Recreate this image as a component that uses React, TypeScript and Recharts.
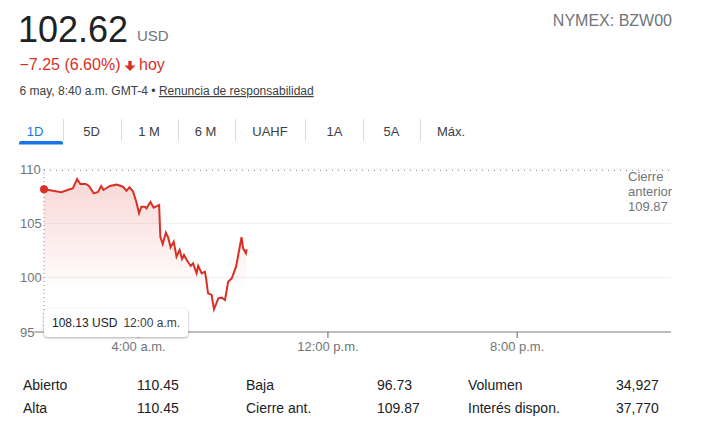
import React from 'react';
import { ComposedChart, Area, XAxis, YAxis, CartesianGrid, Tooltip, ReferenceLine, Label } from 'recharts';

// minutes after midnight (6 may) and price in USD
const minutes = [0, 44, 65, 73, 84, 92, 106, 114, 126, 137, 145, 151, 167, 184, 200, 209, 217, 226, 234, 241, 247, 256, 260, 270, 278, 292, 295, 301, 309, 315, 321, 329, 336, 344, 350, 355, 362, 372, 378, 387, 391, 400, 408, 411, 416, 425, 431, 442, 451, 459, 467, 476, 487, 501, 505, 512, 514];
const prices = [108.13, 107.86, 108.13, 108.22, 109.08, 108.62, 108.62, 108.44, 107.76, 107.88, 108.44, 108.07, 108.44, 108.56, 108.37, 108.0, 108.32, 107.91, 106.99, 105.92, 106.53, 106.53, 106.38, 106.96, 106.44, 106.69, 103.77, 103.1, 104.14, 103.68, 102.8, 103.31, 101.93, 102.55, 101.72, 102.09, 101.63, 101.08, 101.32, 100.4, 101.08, 100.4, 100.55, 99.94, 98.56, 98.41, 97.09, 98.1, 98.16, 97.95, 99.63, 99.94, 101.01, 103.72, 102.7, 102.25, 102.62];

const yTicks = [95, 100, 105, 110];
const xTicks = [240, 720, 1200];
const xTickLabels = ['4:00 a.m.', '12:00 p.m.', '8:00 p.m.'];
const xEnd = 1590;

const prevClose = 109.87;
const lastPrice = '102.62';
const changeText = '−7.25 (6.60%)';
const tabs = ['1D', '5D', '1 M', '6 M', 'UAHF', '1A', '5A', 'Máx.'];
const tabCenters = [35, 91.5, 149, 205.5, 270, 334.5, 391.5, 451];
const tabSeparators = [63, 121, 178, 235, 305, 363, 420];

const statLabels = ['Abierto', 'Alta', 'Baja', 'Cierre ant.', 'Volumen', 'Interés dispon.'];
const statValues = ['110.45', '110.45', '96.73', '109.87', '34,927', '37,770'];

const FONT = '"Liberation Sans", Arial, Helvetica, sans-serif';
const RED = '#d93025';
const GREY = '#70757a';

const data = minutes.map((t, i) => ({ t, price: prices[i] }));

function fmtTime(m: number) {
  const h = Math.floor(m / 60) % 24;
  const mm = String(m % 60).padStart(2, '0');
  const h12 = h % 12 === 0 ? 12 : h % 12;
  return `${h12}:${mm} ${h < 12 ? 'a.m.' : 'p.m.'}`;
}

function YTick(props: any) {
  const { y, payload } = props;
  return (
    <g>
      {payload.value === 95 && <line x1={34} x2={44} y1={y} y2={y} stroke="#bdbdbd" strokeWidth={2} />}
      <text x={20} y={y} dy={4.6} fill={GREY} fontSize={13}>
        {payload.value}
      </text>
    </g>
  );
}

function XTick(props: any) {
  const { x, y, payload } = props;
  return (
    <text x={x} y={y} dy={13} textAnchor="middle" fill={GREY} fontSize={13}>
      {xTickLabels[xTicks.indexOf(payload.value)]}
    </text>
  );
}

function TipBox({ active, payload }: any) {
  if (!active || !payload || !payload.length) return null;
  const p = payload[0].payload;
  return (
    <div
      style={{
        width: 144,
        height: 28,
        boxSizing: 'border-box',
        background: '#fff',
        borderRadius: 4,
        boxShadow: '0 1px 3px rgba(60,64,67,0.3), 0 1px 2px rgba(60,64,67,0.15)',
        fontSize: 12,
        fontFamily: FONT,
        display: 'flex',
        alignItems: 'center',
        paddingLeft: 8,
        whiteSpace: 'nowrap',
      }}
    >
      <span style={{ color: '#202124' }}>{p.price.toFixed(2)} USD</span>
      <span style={{ color: '#3c4043', marginLeft: 6 }}>{fmtTime(p.t)}</span>
    </div>
  );
}

function CierreLabel(props: any) {
  const vb = props.viewBox;
  const x = vb.x + vb.width - 43;
  return (
    <text x={x} y={vb.y} fill={GREY} fontSize={13}>
      <tspan x={x} dy={11}>Cierre</tspan>
      <tspan x={x} dy={15}>anterior</tspan>
      <tspan x={x} dy={15}>{prevClose.toFixed(2)}</tspan>
    </text>
  );
}

function Header() {
  const statCols = [23, 137, 246, 377, 468, 616];
  return (
    <svg width={714} height={438} style={{ position: 'absolute', left: 0, top: 0 }} fontFamily={FONT}>
      <text x={18} y={42} fontSize={36} fill="#202124">{lastPrice}</text>
      <text x={137} y={41} fontSize={15} fill={GREY}>USD</text>
      <text x={672} y={26} fontSize={16} fill={GREY} textAnchor="end">NYMEX: BZW00</text>

      <text x={19.5} y={70} fontSize={16} fill={RED}>{changeText}</text>
      <path d="M128.3 61 H131.7 V65.5 H135.5 L130 71 L124.5 65.5 H128.3 Z" fill={RED} />
      <text x={139} y={70} fontSize={16} fill={RED}>hoy</text>

      <text x={19.5} y={95} fontSize={12} fill="#3c4043">
        6 may, 8:40 a.m. GMT-4 •{' '}
        <tspan textDecoration="underline">Renuncia de responsabilidad</tspan>
      </text>

      {tabs.map((t, i) => (
        <text key={t} x={tabCenters[i]} y={136} fontSize={13} textAnchor="middle" fill={i === 0 ? '#1a73e8' : '#3c4043'}>
          {t}
        </text>
      ))}
      {tabSeparators.map((x) => (
        <line key={x} x1={x + 0.5} x2={x + 0.5} y1={119} y2={141} stroke="#dadce0" />
      ))}
      <path d="M19 144.5 V143 Q19 141 21 141 H61 Q63 141 63 143 V144.5 Z" fill="#1a73e8" />

      {statLabels.map((l, i) => {
        const col = Math.floor(i / 2);
        const row = i % 2;
        return (
          <g key={l}>
            <text x={statCols[col * 2]} y={390 + row * 23} fontSize={14} fill="#202124">{l}</text>
            <text x={statCols[col * 2 + 1]} y={390 + row * 23} fontSize={14} fill="#202124">{statValues[i]}</text>
          </g>
        );
      })}
    </svg>
  );
}

export default function App() {
  return (
    <div style={{ position: 'absolute', left: 0, top: 0, width: 714, height: 438, background: '#fff', fontFamily: FONT }}>
      <Header />
      <div style={{ position: 'absolute', left: 0, top: 0 }}>
        <ComposedChart width={714} height={438} data={data} margin={{ top: 169, right: 43, bottom: 76, left: 0 }}>
          <defs>
            <linearGradient id="fillGrad" x1="0" y1="0" x2="0" y2="1">
              <stop offset="0%" stopColor={RED} stopOpacity={0.32} />
              <stop offset="75%" stopColor={RED} stopOpacity={0} />
            </linearGradient>
          </defs>
          <CartesianGrid vertical={false} stroke="#f0f0f0" />
          <XAxis
            dataKey="t"
            type="number"
            domain={[0, xEnd]}
            ticks={xTicks}
            height={30}
            tickSize={6}
            tickMargin={0}
            tickLine={{ stroke: '#5f6368' }}
            axisLine={{ stroke: '#bdbdbd', strokeWidth: 2 }}
            tick={<XTick />}
          />
          <YAxis
            domain={[95, 110]}
            ticks={yTicks}
            width={44}
            axisLine={false}
            tickLine={false}
            tick={<YTick />}
          />
          <ReferenceLine y={prevClose} stroke="#80868b" strokeDasharray="1 5">
            <Label content={<CierreLabel />} />
          </ReferenceLine>
          <Area
            type="linear"
            dataKey="price"
            stroke={RED}
            strokeWidth={2}
            fill="url(#fillGrad)"
            baseValue={95}
            dot={false}
            activeDot={{ r: 4, fill: RED, stroke: 'none' }}
            isAnimationActive={false}
          />
          <Tooltip
            defaultIndex={0}
            active
            content={<TipBox />}
            position={{ x: 44, y: 309 }}
            cursor={{ stroke: '#80868b', strokeDasharray: '1 3', strokeWidth: 1 }}
            isAnimationActive={false}
            wrapperStyle={{ outline: 'none' }}
          />
        </ComposedChart>
      </div>
    </div>
  );
}
